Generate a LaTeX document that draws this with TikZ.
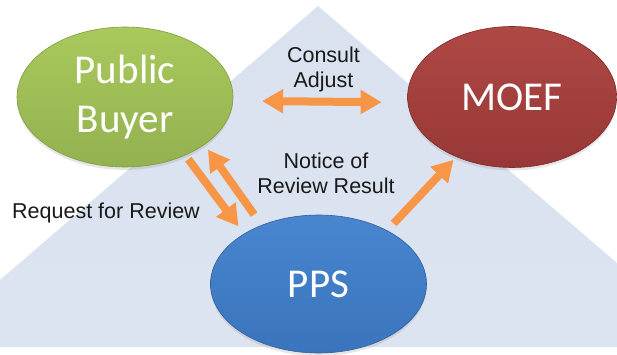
\documentclass[tikz,border=0pt]{standalone}
\usepackage{fontspec}
\setmainfont{Liberation Sans}
\newfontfamily\bigfont{Carlito}
\usepackage{xcolor}
\usepackage{tikz}
\usetikzlibrary{arrows.meta}
\usetikzlibrary{shapes.geometric}
\usetikzlibrary{shadows}
\usetikzlibrary{positioning}

\definecolor{flowcol}{HTML}{F79646}
\definecolor{pyrtop}{HTML}{DAE2EF}
\definecolor{pyrmid}{HTML}{C4D2EA}
\definecolor{pyrbot}{HTML}{DCE4F1}
\definecolor{grtop}{HTML}{A9C95C}
\definecolor{grmid}{HTML}{9BBB59}
\definecolor{grbot}{HTML}{93B14F}
\definecolor{grline}{HTML}{7F9B40}
\definecolor{rdtop}{HTML}{AE4845}
\definecolor{rdmid}{HTML}{A03C3A}
\definecolor{rdbot}{HTML}{983836}
\definecolor{rdline}{HTML}{7A2A28}
\definecolor{bltop}{HTML}{4886CF}
\definecolor{blmid}{HTML}{3D7AC6}
\definecolor{blbot}{HTML}{3A74BC}
\definecolor{blline}{HTML}{2F5F9E}

\begin{document}
\begin{tikzpicture}[x=1pt,y=-1pt,>={Triangle[width=23pt,length=21pt]},semithick]
	\tikzstyle{party}=[ellipse, minimum width=216pt, minimum height=140pt, inner sep=0pt, text=white, align=center,
		font=\bigfont\fontsize{41}{49}\selectfont, drop shadow={opacity=0.2, shadow xshift=0pt, shadow yshift=-3pt}]
	\tikzstyle{flow}=[draw=flowcol, line width=8pt]
	\tikzstyle{note}=[align=center, text=black!90, font=\fontsize{21.5}{25}\selectfont]

	\useasboundingbox (0,0) rectangle (617,355);
	% pyramid in the back
	\shade[top color=pyrtop, middle color=pyrmid, bottom color=pyrbot]
		(318,6) -- (0,280) -- (0,347) -- (617,347) -- (617,263) -- cycle;

	\node[party, draw=grline, top color=grtop, middle color=grmid, bottom color=grbot] (buyer) at (125,97) {Public\\Buyer};
	\node[party, draw=rdline, top color=rdtop, middle color=rdmid, bottom color=rdbot, minimum width=209pt, minimum height=141pt] (moef) [right=174pt of buyer] {MOEF};
	\node[party, draw=blline, top color=bltop, middle color=blmid, bottom color=blbot, minimum height=138pt] (pps) at (318.5,284) {PPS};

	\node[note] (consult) at (323.5,69.5) {Consult\\Adjust};
	\node[note] (notice) at (326,173.5) {Notice of\\Review Result};
	\node[note] (request) at (106,213) {Request for Review};

	\draw[flow,<->,shorten <=29pt,shorten >=26pt] (buyer.-2.7) -- (moef.-177);
	\draw[flow,->,shorten <=4.8pt,shorten >=9.2pt] (buyer.-44) -- (pps.146.5);
	\draw[flow,->,shorten <=12.8pt,shorten >=6pt] (pps.134.2) -- (buyer.-31.5);
	\draw[flow,->,shorten <=9.5pt,shorten >=4pt] (pps.38.9) -- (moef.-133.1);
\end{tikzpicture}
\end{document}
